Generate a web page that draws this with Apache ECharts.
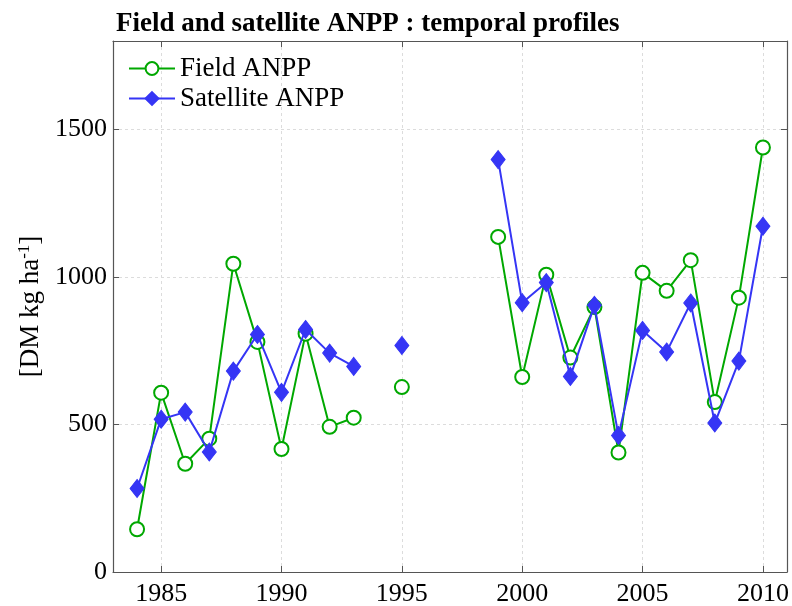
<!DOCTYPE html>
<html><head><meta charset="utf-8">
<script src="https://cdn.jsdelivr.net/npm/echarts@6/dist/echarts.min.js"></script>
<style>html,body{margin:0;padding:0;background:#fff}#c{width:792px;height:606px}</style>
</head><body><div id="c"></div>
<script>
const years = [1984,1985,1986,1987,1988,1989,1990,1991,1992,1993,1994,1995,1996,1997,1998,1999,2000,2001,2002,2003,2004,2005,2006,2007,2008,2009,2010];
const fieldANPP = [145,608,367,452,1045,780,417,808,492,523,null,627,null,null,null,1136,661,1008,727,898,405,1014,953,1057,576,930,1439];
const satelliteANPP = [283,518,542,407,681,805,609,822,742,697,null,768,null,null,null,1398,913,981,663,904,463,819,746,912,505,715,1172];
const xTicks = [1985,1990,1995,2000,2005,2010];
const yTicks = [0,500,1000,1500];

const toPairs = v => years.map((y,i) => [y, v[i] == null ? '-' : v[i]]);
const serif = '"Liberation Serif", "DejaVu Serif", serif';
const axisCol = '#555';
const chart = echarts.init(document.getElementById('c'), null, {renderer:'canvas'});
const baseX = {type:'value', min:1983, max:2011,
  axisLine:{show:true, onZero:false, lineStyle:{color:axisCol, width:1.2}},
  axisTick:{show:true, inside:true, length:6, customValues:xTicks, lineStyle:{color:axisCol}},
  splitLine:{show:false}};
const baseY = {type:'value', min:0, max:1800, interval:500,
  axisLine:{show:true, onZero:false, lineStyle:{color:axisCol, width:1.2}},
  axisTick:{show:true, inside:true, length:6, lineStyle:{color:axisCol}},
  splitLine:{show:false}};
chart.setOption({
  animation:false,
  title:{text:'Field and satellite ANPP : temporal profiles', left:111, top:6,
    textStyle:{fontFamily:serif, fontWeight:'bold', fontSize:27, color:'#000'}},
  grid:{left:113, right:5, top:41, bottom:34, containLabel:false, outerBoundsMode:'none'},
  legend:{left:123, top:50, orient:'vertical', itemWidth:46, itemHeight:16, itemGap:3,
    textStyle:{fontFamily:serif, fontSize:27, color:'#000'},
    data:['Field ANPP','Satellite ANPP']},
  xAxis:[
    Object.assign({}, baseX, {position:'bottom',
      axisLabel:{show:true, margin:9, customValues:xTicks, formatter:v => String(v),
        fontFamily:serif, fontSize:26, color:'#000'},
      splitLine:{show:true, lineStyle:{color:'#dcdcdc', type:[3,3], width:1}}}),
    Object.assign({}, baseX, {position:'top', axisLabel:{show:false}})
  ],
  yAxis:[
    Object.assign({}, baseY, {position:'left',
      axisLabel:{show:true, margin:6, fontFamily:serif, fontSize:26, color:'#000',
        formatter:v => yTicks.includes(v) ? String(v) : ''},
      splitLine:{show:true, lineStyle:{color:'#dcdcdc', type:[3,3], width:1}},
      name:'{a|[DM kg ha}{s|-1}{a|]}', nameLocation:'middle', nameGap:62, nameRotate:90,
      nameTextStyle:{rich:{a:{fontFamily:serif, fontSize:27, color:'#000'},
        s:{fontFamily:serif, fontSize:17, color:'#000', verticalAlign:'top', padding:[0,0,12,0]}}}}),
    Object.assign({}, baseY, {position:'right', axisLabel:{show:false}})
  ],
  series:[
    {name:'Field ANPP', type:'line', xAxisIndex:0, yAxisIndex:0, data:toPairs(fieldANPP),
      connectNulls:false, showSymbol:true, showAllSymbol:true,
      symbol:'circle', symbolSize:14,
      lineStyle:{color:'#00a800', width:2},
      itemStyle:{color:'#fff', borderColor:'#00a800', borderWidth:2}, z:2},
    {name:'Satellite ANPP', type:'line', xAxisIndex:0, yAxisIndex:0, data:toPairs(satelliteANPP),
      connectNulls:false, showSymbol:true, showAllSymbol:true,
      symbol:'diamond', symbolSize:[14,18],
      lineStyle:{color:'#3535f5', width:2},
      itemStyle:{color:'#3535f5', borderColor:'#3535f5', borderWidth:1}, z:3}
  ]
});
</script></body></html>
